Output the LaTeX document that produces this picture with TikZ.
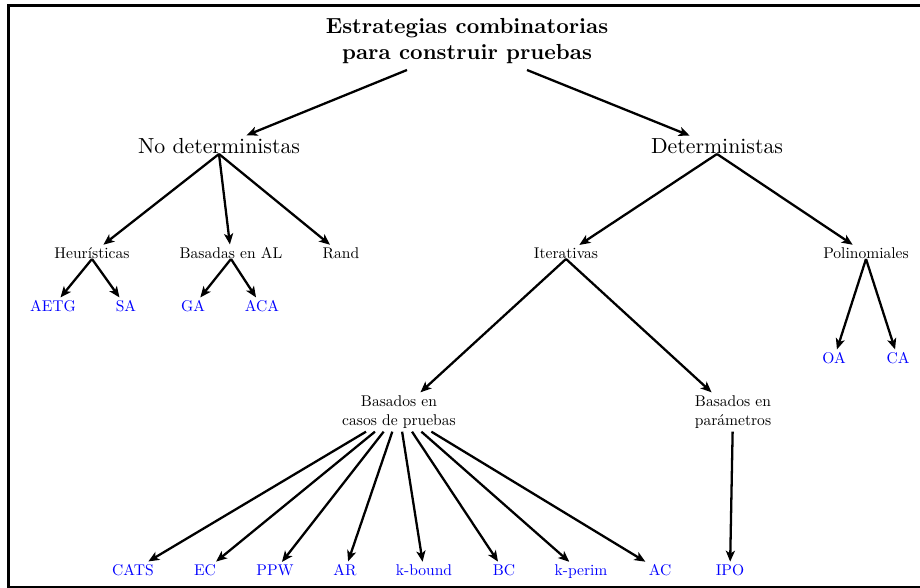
\documentclass[tikz,border=0pt]{standalone}
\usetikzlibrary{arrows.meta}
\begin{document}
\begin{tikzpicture}[x=0.4587pt,y=-0.4587pt,
  lvl/.style={inner sep=1.4pt},
  topnode/.style={lvl,font=\normalsize,anchor=base},
  small/.style={font=\normalsize,scale=0.714,transform shape,inner sep=2pt},
  subnode/.style={small,anchor=base},
  subtwo/.style={small,align=center},
  leaf/.style={small,text=blue,anchor=base},
  arr/.style={line width=1.05pt,-{Stealth[length=5pt,width=4.2pt,inset=1.3pt]}}]
\useasboundingbox (0,0) rectangle (920,588);
\draw[line width=1pt] (8.5,5.5) rectangle (930,587);
% nodes
\node[lvl,inner ysep=4pt,font=\bfseries,align=center] (root) at (467,41) {Estrategias combinatorias\\para construir pruebas};
\coordinate (rootl) at (407,70);
\coordinate (rootr) at (527,70);
\node[topnode] (nd) at (219,154) {No deterministas};
\node[topnode] (det) at (717,154) {Deterministas};
\node[subnode] (heu) at (92,259) {Heurísticas};
\node[subnode] (bal) at (231,259) {Basadas en AL};
\node[subnode] (rand) at (341,259) {Rand};
\node[subnode] (ite) at (566,259) {Iterativas};
\node[subnode] (pol) at (866,259) {Polinomiales};
\node[leaf] (aetg) at (53,312) {AETG};
\node[leaf] (sa) at (126,312) {SA};
\node[leaf] (ga) at (193,312) {GA};
\node[leaf] (aca) at (262,312) {ACA};
\node[leaf] (oa) at (834,364) {OA};
\node[leaf] (ca) at (898,364) {CA};
\node[subtwo] (bcp) at (399,412) {Basados en\\casos de pruebas};
\node[subtwo] (bpar) at (733,412) {Basados en\\parámetros};
\node[leaf] (cats) at (133,576) {CATS};
\node[leaf] (ec) at (205,576) {EC};
\node[leaf] (ppw) at (275,576) {PPW};
\node[leaf] (ar) at (345,576) {AR};
\node[leaf] (kb) at (424,576) {k-bound};
\node[leaf] (bc) at (504,576) {BC};
\node[leaf] (kp) at (581,576) {k-perim};
\node[leaf] (ac) at (660,576) {AC};
\node[leaf] (ipo) at (730,576) {IPO};
% connectors
\draw[arr] (rootl) -- (nd);
\draw[arr] (rootr) -- (det);
\draw[arr] (nd.base) -- (heu);
\draw[arr] (nd.base) -- (bal);
\draw[arr] (nd.base) -- (rand);
\draw[arr] (det.base) -- (ite);
\draw[arr] (det.base) -- (pol);
\draw[arr] (heu.base) -- (aetg);
\draw[arr] (heu.base) -- (sa);
\draw[arr] (bal.base) -- (ga);
\draw[arr] (bal.base) -- (aca);
\draw[arr] (pol.base) -- (oa);
\draw[arr] (pol.base) -- (ca);
\draw[arr] (ite.base) -- (bcp);
\draw[arr] (ite.base) -- (bpar);
\foreach \c in {cats,ec,ppw,ar,kb,bc,kp,ac}
  \draw[arr] (bcp) -- (\c);
\draw[arr] (bpar) -- (ipo);
\end{tikzpicture}
\end{document}
